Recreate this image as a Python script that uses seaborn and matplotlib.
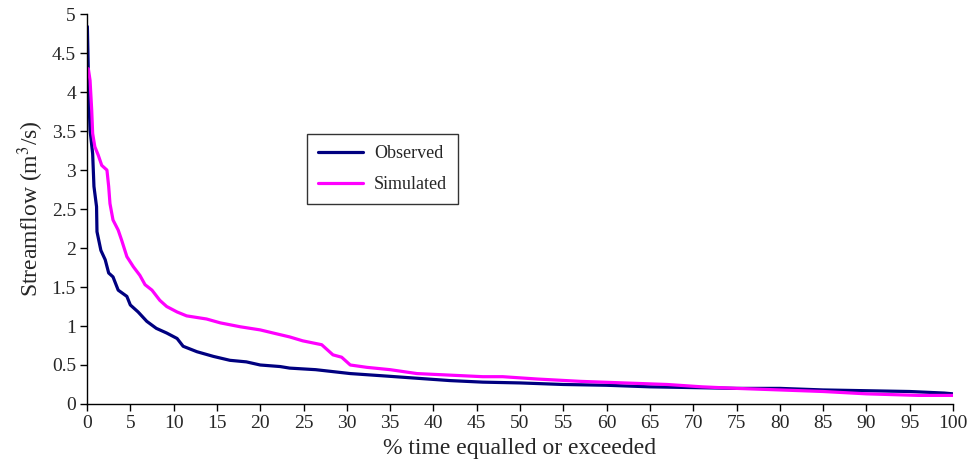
import matplotlib
matplotlib.use("Agg")
import matplotlib.pyplot as plt
import seaborn as sns
import pandas as pd

# Observed flow duration curve (% time equalled or exceeded, m3/s)
obs_x = [0.0, 0.04, 0.2, 0.35, 0.65, 0.8, 1.1, 1.15, 1.6, 2.1, 2.5, 3.0, 3.6, 4.6, 5.0, 5.9,
         6.9, 8.0, 9.2, 10.4, 11.1, 12.7, 14.6, 16.5, 18.4, 20.0, 22.3, 23.4, 26.4, 30.4,
         34.3, 38.1, 41.9, 45.7, 50, 55, 60, 65, 70, 75, 80, 85, 90, 95, 99, 100]
obs_y = [4.84, 4.84, 4.0, 3.51, 3.21, 2.79, 2.53, 2.21, 1.97, 1.85, 1.68, 1.63, 1.46, 1.38,
         1.27, 1.18, 1.06, 0.97, 0.91, 0.84, 0.74, 0.67, 0.61, 0.56, 0.54, 0.50, 0.48, 0.46,
         0.44, 0.39, 0.36, 0.33, 0.30, 0.28, 0.27, 0.25, 0.24, 0.22, 0.21, 0.20, 0.20, 0.18,
         0.17, 0.16, 0.14, 0.13]

# Simulated flow duration curve
sim_x = [0.1, 0.15, 0.35, 0.54, 0.65, 0.9, 1.3, 1.7, 2.3, 2.5, 2.65, 3.0, 3.6, 4.0, 4.6,
         5.35, 6.1, 6.7, 7.5, 8.4, 9.2, 10.4, 11.5, 13.8, 15.4, 17.7, 20.0, 21.5, 23.4, 24.9,
         27.1, 28.4, 29.4, 30.4, 32.3, 35.0, 38.1, 41.9, 45.7, 48, 52, 57, 62, 67, 71, 75,
         80, 85, 90, 96, 100]
sim_y = [4.30, 4.30, 4.15, 3.77, 3.47, 3.30, 3.19, 3.06, 3.0, 2.79, 2.57, 2.36, 2.23, 2.10,
         1.89, 1.76, 1.65, 1.53, 1.46, 1.33, 1.25, 1.18, 1.13, 1.09, 1.04, 0.99, 0.95, 0.91,
         0.86, 0.81, 0.76, 0.63, 0.60, 0.50, 0.47, 0.44, 0.39, 0.37, 0.35, 0.35, 0.32, 0.29,
         0.27, 0.25, 0.22, 0.20, 0.18, 0.16, 0.13, 0.11, 0.11]

x_ticks = list(range(0, 101, 5))
y_ticks = [0, 0.5, 1, 1.5, 2, 2.5, 3, 3.5, 4, 4.5, 5]
y_tick_labels = ["0", "0.5", "1", "1.5", "2", "2.5", "3", "3.5", "4", "4.5", "5"]

sns.set_style("ticks")
plt.rcParams["font.family"] = ["Liberation Serif", "DejaVu Serif"]
plt.rcParams["mathtext.fontset"] = "stix"

df = pd.concat([
    pd.DataFrame({"x": obs_x, "y": obs_y, "series": "Observed"}),
    pd.DataFrame({"x": sim_x, "y": sim_y, "series": "Simulated"}),
])

fig = plt.figure(figsize=(9.68, 4.71), dpi=100)
ax = fig.add_axes([0.0899, 0.1423, 0.8946, 0.8277])

sns.lineplot(data=df, x="x", y="y", hue="series", palette={"Observed": "#000080", "Simulated": "#FF00FF"},
             linewidth=2.3, ax=ax, sort=False, estimator=None)

ax.set_xlim(0, 100)
ax.set_ylim(0, 5)
ax.set_xticks(x_ticks)
ax.set_yticks(y_ticks)
ax.set_yticklabels(y_tick_labels)
ax.tick_params(axis="both", labelsize=14, length=5, width=1, color="black", direction="out", pad=3)
ax.set_xlabel("% time equalled or exceeded", fontsize=17, labelpad=4)
ax.set_ylabel("Streamflow (m$^3$/s)", fontsize=17, labelpad=4)
for s in ["top", "right"]:
    ax.spines[s].set_visible(False)
for s in ["left", "bottom"]:
    ax.spines[s].set_color("black")
    ax.spines[s].set_linewidth(1)

leg = ax.legend(loc="upper left", bbox_to_anchor=(0.254, 0.692), fontsize=13, frameon=True,
                fancybox=False, edgecolor="black", handlelength=2.5, handletextpad=0.6,
                borderpad=0.6, labelspacing=0.8, borderaxespad=0, title=None)
leg.get_frame().set_linewidth(1)

fig.savefig("out.png", dpi=100)
